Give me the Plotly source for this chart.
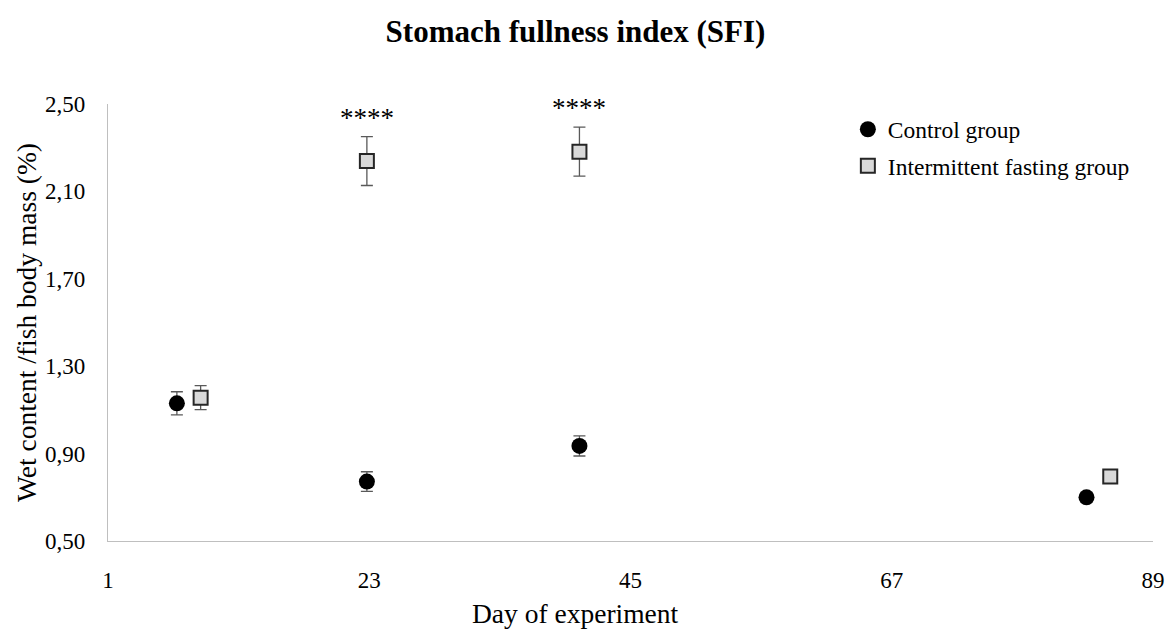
import plotly.graph_objects as go

# Data
control_day = [6.8, 22.8, 40.7, 83.4]
control_sfi = [1.130, 0.772, 0.935, 0.700]
control_err = [0.053, 0.045, 0.046, 0.022]

fasting_day = [8.8, 22.8, 40.7, 85.4]
fasting_sfi = [1.156, 2.239, 2.282, 0.795]
fasting_err = [0.055, 0.112, 0.112, 0.022]

signif_idx = [1, 2]
signif_text = ["****", "****"]

x_ticks = [1, 23, 45, 67, 89]
y_ticks = [0.50, 0.90, 1.30, 1.70, 2.10, 2.50]
y_tick_labels = ["0,50", "0,90", "1,30", "1,70", "2,10", "2,50"]

FONT = "Liberation Serif, Times New Roman, serif"

fig = go.Figure()
fig.add_trace(go.Scatter(
    x=control_day, y=control_sfi, mode="markers", name="Control group",
    legendgroup="c",
    marker=dict(symbol="circle", size=16, color="#000000", line=dict(width=0)),
    error_y=dict(type="data", array=control_err, visible=True, color="#595959",
                 thickness=1.3, width=6),
))
fig.add_trace(go.Scatter(
    x=fasting_day, y=fasting_sfi, mode="markers", name="Intermittent fasting group",
    legendgroup="f",
    marker=dict(symbol="square", size=14, color="#d9d9d9",
                line=dict(width=2, color="#262626")),
    error_y=dict(type="data", array=fasting_err, visible=True, color="#595959",
                 thickness=1.3, width=6),
))

for i, t in zip(signif_idx, signif_text):
    fig.add_annotation(x=fasting_day[i], y=fasting_sfi[i] + fasting_err[i], text=t,
                       showarrow=False, yanchor="middle", yshift=19,
                       font=dict(family=FONT, size=27, color="#000000"))

fig.add_annotation(text="Day of experiment", xref="paper", yref="paper",
                   x=0.447, y=-0.165, xanchor="center", yanchor="middle",
                   showarrow=False, font=dict(family=FONT, size=27.5, color="#000000"))

fig.update_layout(
    width=1165, height=633,
    margin=dict(l=108, r=12, t=104, b=92),
    paper_bgcolor="white", plot_bgcolor="white",
    font=dict(family=FONT, color="#000000"),
    title=dict(text="<b>Stomach fullness index (SFI)</b>", x=0.494, xanchor="center",
               y=0.951, yanchor="middle", font=dict(family=FONT, size=31, color="#000000")),
    showlegend=True,
    legend=dict(x=0.708, y=0.992, xanchor="left", yanchor="top",
                font=dict(family=FONT, size=23.5, color="#000000"),
                bgcolor="rgba(0,0,0,0)", tracegroupgap=3, traceorder="grouped"),
    xaxis=dict(range=[1, 89], tickvals=x_ticks, ticktext=[str(v) for v in x_ticks],
               automargin=False,
               showgrid=False, zeroline=False, showline=True, linecolor="#bfbfbf",
               linewidth=1.3, ticks="outside", ticklen=18, tickcolor="rgba(0,0,0,0)",
               tickfont=dict(family=FONT, size=23, color="#000000")),
    yaxis=dict(range=[0.50, 2.50], tickvals=y_ticks, ticktext=y_tick_labels,
               automargin=False,
               showgrid=False, zeroline=False, showline=True, linecolor="#bfbfbf",
               linewidth=1.3, ticks="outside", ticklen=17, tickcolor="rgba(0,0,0,0)",
               tickfont=dict(family=FONT, size=23, color="#000000"),
               title=dict(text="Wet content /fish body mass (%)", standoff=0,
                          font=dict(family=FONT, size=27.5, color="#000000"))),
)

fig.write_html("out.html")
